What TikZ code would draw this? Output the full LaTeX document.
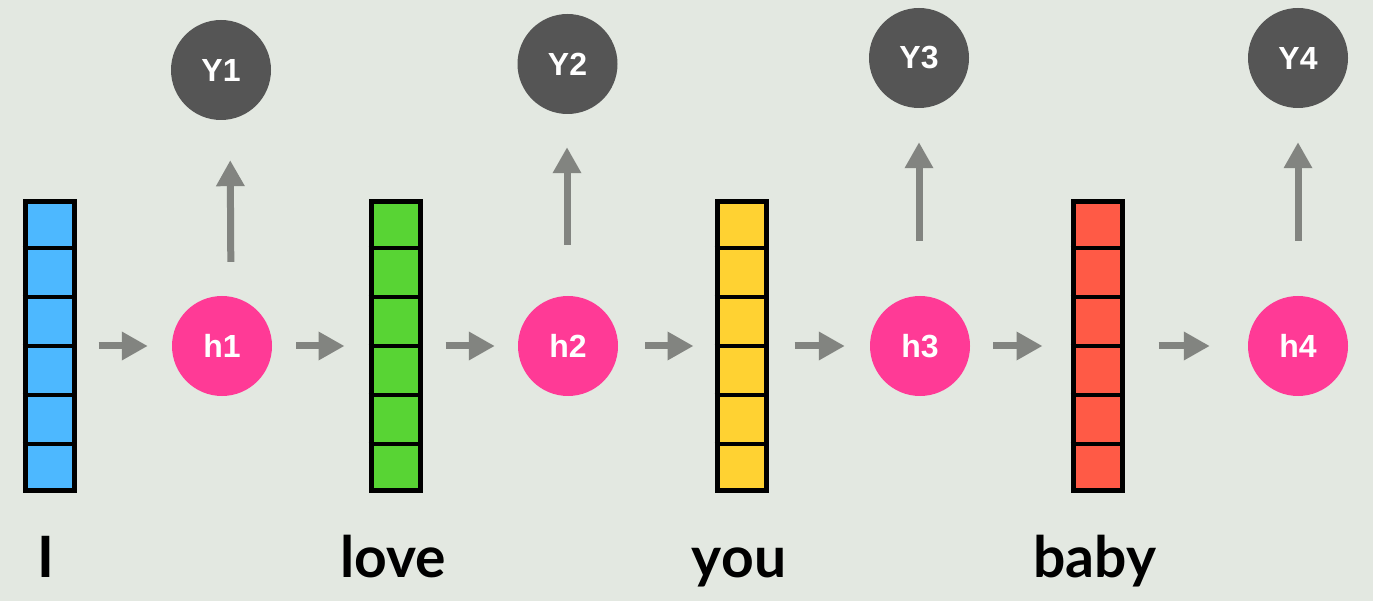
\documentclass[tikz,border=0pt]{standalone}
\usepackage{fontspec}
\setmainfont{Liberation Sans}
\newfontfamily\wordfont{Lato}
\usetikzlibrary{arrows.meta,calc}
\definecolor{bg}{RGB}{227,232,225}
\definecolor{cblue}{RGB}{77,184,255}
\definecolor{cgreen}{RGB}{88,212,52}
\definecolor{cyellow}{RGB}{255,210,50}
\definecolor{cred}{RGB}{255,90,70}
\definecolor{cpink}{RGB}{255,58,150}
\definecolor{cdark}{RGB}{85,85,85}
\definecolor{carrow}{RGB}{130,132,128}
\tikzset{
  vecbox/.style={draw=black, line width=5pt, minimum width=49pt, minimum height=288pt, inner sep=0pt},
  hnode/.style={circle, fill=cpink, minimum size=100pt, inner sep=0pt, text=white, font=\bfseries\fontsize{32}{32}\selectfont},
  ynode/.style={circle, fill=cdark, minimum size=100pt, inner sep=0pt, text=white, font=\bfseries\fontsize{32}{32}\selectfont},
  word/.style={anchor=base, inner sep=0pt, font=\wordfont\bfseries\fontsize{57}{57}\selectfont},
  flow/.style={draw=carrow, line width=7pt, -{Triangle[length=26pt,width=27pt]}, carrow}
}
\begin{document}
\begin{tikzpicture}[x=1pt,y=-1pt]
\useasboundingbox[fill=bg] (0,0) rectangle (1373,601);
% vectors
\node[vecbox, fill=cblue]   (v1) at (49.5,346) {};
\node[vecbox, fill=cgreen]  (v2) at (395.5,346) {};
\node[vecbox, fill=cyellow] (v3) at (741.5,346) {};
\node[vecbox, fill=cred]    (v4) at (1097.5,346) {};
\foreach \v in {v1,v2,v3,v4}{
  \foreach \k in {1,...,5}{
    \draw[line width=4pt] ($(\v.north west)!\k/6!(\v.south west)$) -- ($(\v.north east)!\k/6!(\v.south east)$);
  }
}
% hidden states
\node[hnode] (h1) at (222,346) {h1};
\node[hnode] (h2) at (568,346) {h2};
\node[hnode] (h3) at (920,346) {h3};
\node[hnode] (h4) at (1298,346) {h4};
% outputs
\node[ynode] (y1) at (221,70) {Y1};
\node[ynode] (y2) at (567.5,64) {Y2};
\node[ynode] (y3) at (919,58) {Y3};
\node[ynode] (y4) at (1298,58) {Y4};
% words
\node[word] (w1) at (46,577) {I};
\node[word] (w2) at (393,577) {love};
\node[word] (w3) at (739,577) {you};
\node[word] (w4) at (1095,577) {baby};
% horizontal arrows
\draw[flow, shorten <=22pt, shorten >=24pt] (v1.east) -- (h1.west);
\draw[flow, shorten <=24pt, shorten >=24pt] (h1.east) -- (v2.west);
\draw[flow, shorten <=23pt, shorten >=23pt] (v2.east) -- (h2.west);
\draw[flow, shorten <=27pt, shorten >=21pt] (h2.east) -- (v3.west);
\draw[flow, shorten <=26pt, shorten >=25pt] (v3.east) -- (h3.west);
\draw[flow, shorten <=23pt, shorten >=28pt] (h3.east) -- (v4.west);
\draw[flow, shorten <=34pt, shorten >=38pt] (v4.east) -- (h4.west);
% vertical arrows
\draw[flow, shorten <=34pt, shorten >=40pt] ([xshift=9pt]h1.north) -- ([xshift=9pt]y1.south);
\draw[flow, shorten <=51pt, shorten >=33pt] ([xshift=-1pt]h2.north) -- ([xshift=-0.5pt]y2.south);
\draw[flow, shorten <=55pt, shorten >=34pt] ([xshift=-1pt]h3.north) -- (y3.south);
\draw[flow, shorten <=55pt, shorten >=34pt] (h4.north) -- (y4.south);
\end{tikzpicture}
\end{document}
